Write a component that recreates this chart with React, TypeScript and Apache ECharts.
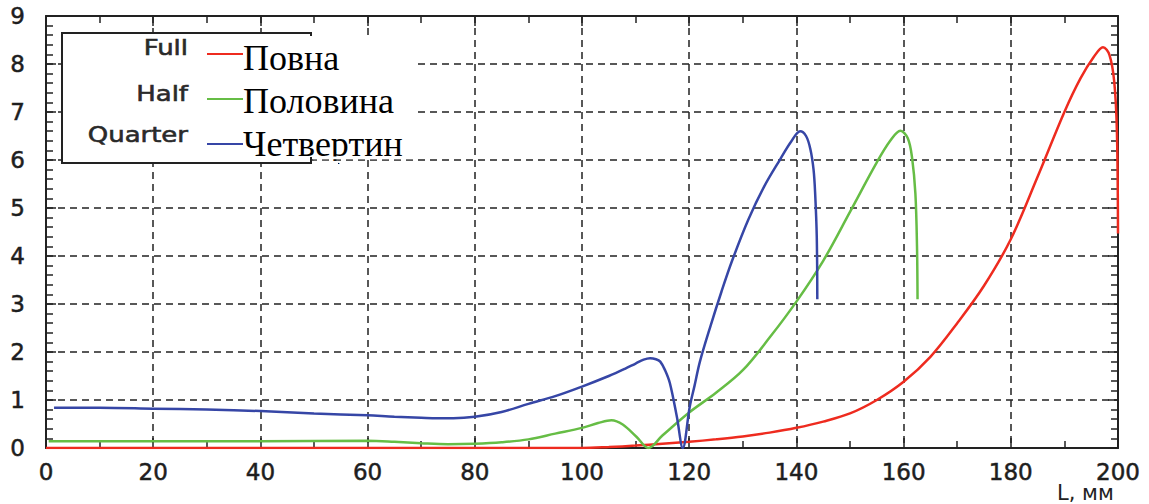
import React, { useEffect, useRef } from "react";
import * as echarts from "echarts";

// ---- data ----
const xTickValues = [0, 20, 40, 60, 80, 100, 120, 140, 160, 180, 200];
const yTickValues = [0, 1, 2, 3, 4, 5, 6, 7, 8, 9];

const legendLabels = ["Full", "Half", "Quarter"];
const legendLabelsUk = ["Повна", "Половина", "Четвертин"];
const axisTitle = "L, мм";

const fullL = [0, 20, 40, 60, 80, 100, 105, 110, 115, 120, 125, 130, 135, 140, 145, 150, 155, 160, 165, 170, 175, 180, 185, 190, 193, 195.5, 197.2, 198.4, 199.3, 199.8, 200];
const fullV = [0, 0, 0, 0, 0, 0, 0.02, 0.05, 0.09, 0.13, 0.18, 0.24, 0.32, 0.42, 0.55, 0.72, 1.0, 1.38, 1.9, 2.6, 3.38, 4.35, 5.65, 7.0, 7.7, 8.15, 8.35, 8.19, 7.63, 6.58, 4.47];

const halfL = [0.5, 20, 40, 60, 65, 70, 75, 80, 85, 90, 95, 100, 103, 105.5, 107.6, 110.2, 112.4, 115, 120, 125, 130, 135, 140, 145, 150, 155, 157.5, 159.4, 160.8, 161.6, 162.2, 162.5, 162.6];
const halfV = [0.14, 0.14, 0.14, 0.15, 0.13, 0.1, 0.08, 0.09, 0.12, 0.18, 0.3, 0.42, 0.52, 0.58, 0.49, 0.23, 0.0, 0.26, 0.74, 1.15, 1.62, 2.3, 3.05, 3.9, 4.92, 5.95, 6.4, 6.61, 6.45, 6.03, 5.3, 4.2, 3.1];

const quarterL = [1.5, 10, 20, 30, 40, 50, 60, 65, 70, 73, 76, 80, 85, 90, 95, 100, 105, 108, 110, 111.5, 112.7, 113.8, 114.6, 115.5, 116.4, 117.7, 118.8, 120.1, 121, 122, 124, 126, 128, 131, 134, 137, 139, 140.7, 141.8, 142.6, 143.2, 143.5, 143.8, 143.9];
const quarterV = [0.84, 0.84, 0.82, 0.8, 0.77, 0.72, 0.68, 0.65, 0.63, 0.62, 0.62, 0.65, 0.75, 0.92, 1.08, 1.28, 1.5, 1.65, 1.76, 1.84, 1.87, 1.85, 1.8, 1.62, 1.35, 0.65, 0.0, 0.86, 1.3, 1.8, 2.55, 3.25, 3.9, 4.75, 5.45, 6.02, 6.38, 6.6, 6.5, 6.23, 5.8, 5.3, 4.4, 3.1];

const colors = ["#ee2b1f", "#66bd45", "#3646a6"];

const zip = (xs: number[], ys: number[]) => xs.map((x, i) => [x, ys[i]]);

export default function App() {
  const ref = useRef<HTMLDivElement>(null);
  useEffect(() => {
    document.body.style.margin = "0";
    if (!ref.current) return;
    const chart = echarts.init(ref.current, undefined, { renderer: "svg" });
    const ink = "#222";
    const dash = { type: [7, 5], color: ink, width: 1.5 };
    const tickFont = {
      fontFamily: "DejaVu Sans",
      fontSize: 23,
      color: "#1e1e1e",
      textBorderColor: "#1e1e1e",
      textBorderWidth: 0.5,
    };
    const baseX = {
      type: "value",
      min: xTickValues[0],
      max: xTickValues[xTickValues.length - 1],
      interval: xTickValues[1] - xTickValues[0],
      axisLine: { show: true, onZero: false, lineStyle: { color: ink, width: 2 } },
      axisTick: { show: true, inside: true, length: 10, lineStyle: { color: ink, width: 1.5 } },
      minorTick: { show: true, splitNumber: 2, length: 7, lineStyle: { color: ink, width: 1.5 } },
    };
    const baseY = {
      type: "value",
      min: yTickValues[0],
      max: yTickValues[yTickValues.length - 1],
      interval: yTickValues[1] - yTickValues[0],
      axisLine: { show: true, onZero: false, lineStyle: { color: ink, width: 2 } },
      axisTick: { show: true, inside: true, length: 10, lineStyle: { color: ink, width: 1.5 } },
      minorTick: { show: true, splitNumber: 5, length: 7, lineStyle: { color: ink, width: 1.5 } },
    };
    const data = [zip(fullL, fullV), zip(halfL, halfV), zip(quarterL, quarterV)];
    const rowLine = [54, 99, 144];
    const rowLabel = [47.5, 94, 135];
    const rowUk = [58, 101, 144];
    const graphics: any[] = [
      {
        type: "rect",
        shape: { x: 62, y: 33, width: 249, height: 130 },
        style: { fill: "#fff", stroke: ink, lineWidth: 2 },
        z: 100,
      },
      {
        type: "rect",
        shape: { x: 241, y: 36, width: 172, height: 121 },
        style: { fill: "#fff" },
        z: 101,
      },
    ];
    legendLabels.forEach((lab, i) => {
      graphics.push({
        type: "text",
        x: 188,
        y: rowLabel[i],
        scaleX: 1.18,
        style: {
          text: lab,
          fontFamily: "DejaVu Sans",
          fontSize: 22,
          fill: "#2a2a2a",
          stroke: "#2a2a2a",
          lineWidth: 0.6,
          align: "right",
          verticalAlign: "middle",
        },
        z: 102,
      });
      graphics.push({
        type: "line",
        shape: { x1: 207, y1: rowLine[i], x2: 243, y2: rowLine[i] },
        style: { stroke: colors[i], lineWidth: 2 },
        z: 102,
      });
      graphics.push({
        type: "text",
        x: 243,
        y: rowUk[i],
        style: {
          text: legendLabelsUk[i],
          fontFamily: "Liberation Serif",
          fontSize: 36,
          fill: "#000",
          align: "left",
          verticalAlign: "middle",
        },
        z: 102,
      });
    });
    // the clipped bottom of the last overlay text
    graphics.push({
      type: "rect",
      shape: { x: 313, y: 156.6, width: 102, height: 2.6 },
      style: { fill: "#fff" },
      z: 103,
    });
    graphics.push({
      type: "rect",
      shape: { x: 314, y: 160.9, width: 24, height: 10 },
      style: { fill: "#fff" },
      z: 103,
    });
    graphics.push({
      type: "text",
      x: 1057,
      y: 493,
      style: {
        text: axisTitle,
        fontFamily: "DejaVu Sans",
        fontSize: 21,
        fill: ink,
        align: "left",
        verticalAlign: "middle",
      },
      z: 102,
    });

    chart.setOption({
      animation: false,
      backgroundColor: "#fff",
      grid: { left: 46, top: 16, right: 31, bottom: 56, containLabel: false },
      xAxis: [
        {
          ...baseX,
          position: "bottom",
          axisLabel: { show: true, margin: 12, ...tickFont },
          splitLine: { show: true, lineStyle: dash },
        },
        {
          ...baseX,
          position: "top",
          axisLabel: { show: false },
          splitLine: { show: false },
        },
      ],
      yAxis: [
        {
          ...baseY,
          position: "left",
          axisLabel: { show: true, margin: 21, ...tickFont },
          splitLine: { show: true, lineStyle: dash },
        },
        {
          ...baseY,
          position: "right",
          axisLabel: { show: false },
          splitLine: { show: false },
        },
      ],
      series: legendLabels.map((name, i) => ({
        name,
        type: "line",
        xAxisIndex: 0,
        yAxisIndex: 0,
        data: data[i],
        showSymbol: false,
        smooth: 0.35,
        lineStyle: { color: colors[i], width: 2.5 },
        itemStyle: { color: colors[i] },
        z: 5,
      })),
      graphic: graphics,
    });
    return () => chart.dispose();
  }, []);
  return <div ref={ref} style={{ width: 1149, height: 504 }} />;
}
